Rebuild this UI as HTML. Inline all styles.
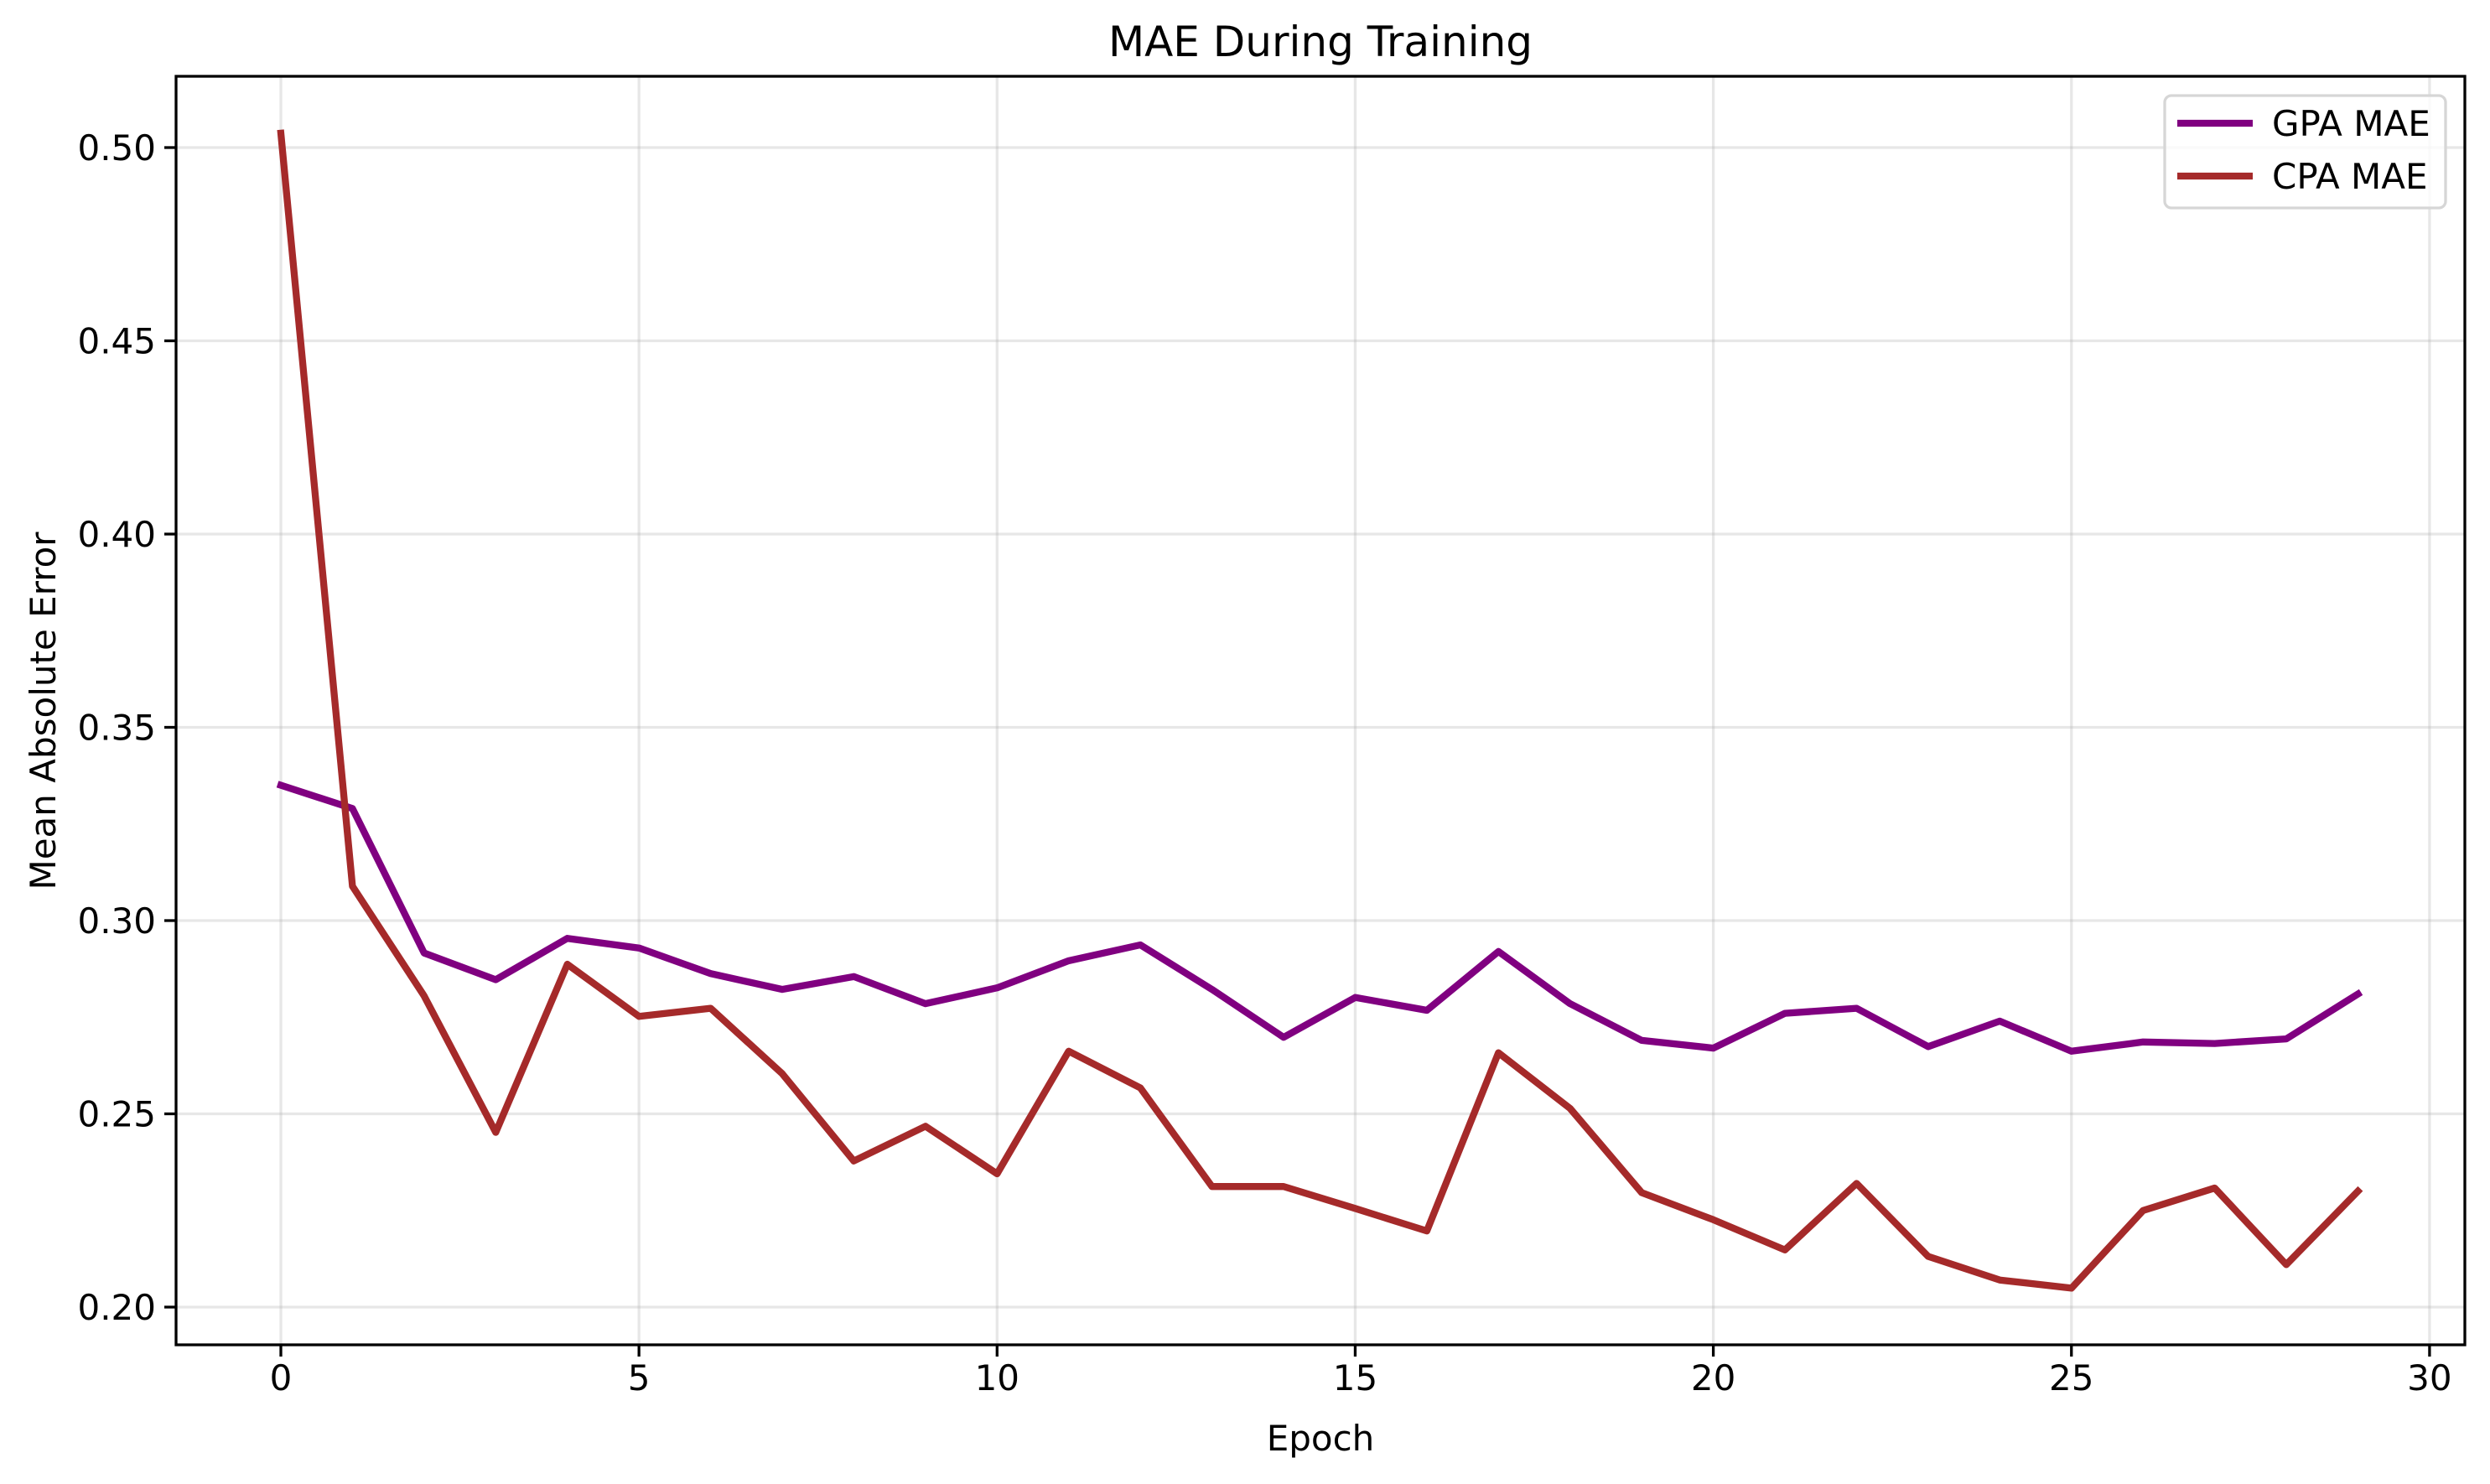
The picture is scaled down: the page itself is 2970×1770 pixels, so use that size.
<!DOCTYPE html>
<html><head><meta charset="utf-8"><style>
html,body{margin:0;padding:0;background:#fff;}
svg text{font-family:"DejaVu Sans","Liberation Sans",sans-serif;fill:#000;}
</style></head><body>
<svg id="chart" width="2970" height="1765" viewBox="0 0 2970 1765" xmlns="http://www.w3.org/2000/svg">
<rect width="2970" height="1765" fill="#fff"/>
<g id="grid"></g>
<g id="series"></g>
<rect x="210" y="91" width="2730" height="1513" fill="none" stroke="#000" stroke-width="3.3"/>
<g id="ticks"></g>
<text x="1575" y="67" font-size="50" text-anchor="middle">MAE During Training</text>
<text x="1575" y="1730" font-size="42" text-anchor="middle">Epoch</text>
<text x="66" y="848" font-size="42" text-anchor="middle" transform="rotate(-90 66 848)">Mean Absolute Error</text>
<g>
<rect x="2582" y="114" width="335" height="134" rx="8" fill="#fff" fill-opacity="0.8" stroke="#d6d6d6" stroke-width="3.3"/>
<line x1="2597" y1="147" x2="2687" y2="147" stroke="#800080" stroke-width="8.3"/>
<text x="2710" y="162" font-size="42">GPA MAE</text>
<line x1="2597" y1="210" x2="2687" y2="210" stroke="#a52a2a" stroke-width="8.3"/>
<text x="2710" y="225" font-size="42">CPA MAE</text>
</g>
</svg>
<script>
const epochs = [0,1,2,3,4,5,6,7,8,9,10,11,12,13,14,15,16,17,18,19,20,21,22,23,24,25,26,27,28,29];
const gpaMae = [0.335,0.329,0.2916,0.2847,0.2954,0.2929,0.2863,0.2822,0.2855,0.2785,0.2826,0.2896,0.2937,0.2822,0.2698,0.2801,0.2768,0.292,0.2785,0.269,0.267,0.276,0.2773,0.2674,0.274,0.2662,0.2686,0.2682,0.2694,0.281];
const cpaMae = [0.5037,0.3089,0.2805,0.2452,0.2887,0.2752,0.2773,0.2604,0.2378,0.2468,0.2345,0.2662,0.2567,0.2312,0.2312,0.2255,0.2197,0.2658,0.2514,0.2296,0.2226,0.2148,0.232,0.2131,0.207,0.2049,0.225,0.2308,0.211,0.23];
const xTicks = [0,5,10,15,20,25,30];
const yTicks = [0.20,0.25,0.30,0.35,0.40,0.45,0.50];
const yTickLabels = ["0.20","0.25","0.30","0.35","0.40","0.45","0.50"];

const NS = "http://www.w3.org/2000/svg";
function xs(v){ return 335 + v*85.43; }
function ys(v){ return 1559 - (v-0.20)/0.05*230.5; }
const grid = document.getElementById('grid');
const ticks = document.getElementById('ticks');
const series = document.getElementById('series');
function mk(tag, attrs, parent){ const e=document.createElementNS(NS,tag); for(const k in attrs) e.setAttribute(k,attrs[k]); parent.appendChild(e); return e; }

xTicks.forEach((t,i)=>{
  const x = xs(t);
  const g = mk('line',{x1:x,y1:91,x2:x,y2:1604,stroke:'#b0b0b0','stroke-opacity':0.3,'stroke-width':3.3},grid);
  
  
  const tk = mk('line',{x1:x,y1:1604,x2:x,y2:1618,stroke:'#000','stroke-width':3.3},ticks);
  
  
  const lb = mk('text',{x:x,y:1658,'font-size':42,'text-anchor':'middle'},ticks);
  lb.textContent = String(t);
  
  
});
yTicks.forEach((t,i)=>{
  const y = ys(t);
  const g = mk('line',{x1:210,y1:y,x2:2940,y2:y,stroke:'#b0b0b0','stroke-opacity':0.3,'stroke-width':3.3},grid);
  
  
  const tk = mk('line',{x1:196,y1:y,x2:210,y2:y,stroke:'#000','stroke-width':3.3},ticks);
  
  
  const lb = mk('text',{x:186,y:y+15,'font-size':42,'text-anchor':'end'},ticks);
  lb.textContent = yTickLabels[i];
  
  
});
function drawLine(vals,color,name){
  const pts = vals.map((v,i)=>xs(epochs[i]).toFixed(1)+','+ys(v).toFixed(1)).join(' ');
  const p = mk('polyline',{points:pts,fill:'none',stroke:color,'stroke-width':8.3,'stroke-linejoin':'round','stroke-linecap':'square'},series);
  
  
}
drawLine(gpaMae,'#800080','gpa-mae-line');
drawLine(cpaMae,'#a52a2a','cpa-mae-line');
</script>
</body></html>
